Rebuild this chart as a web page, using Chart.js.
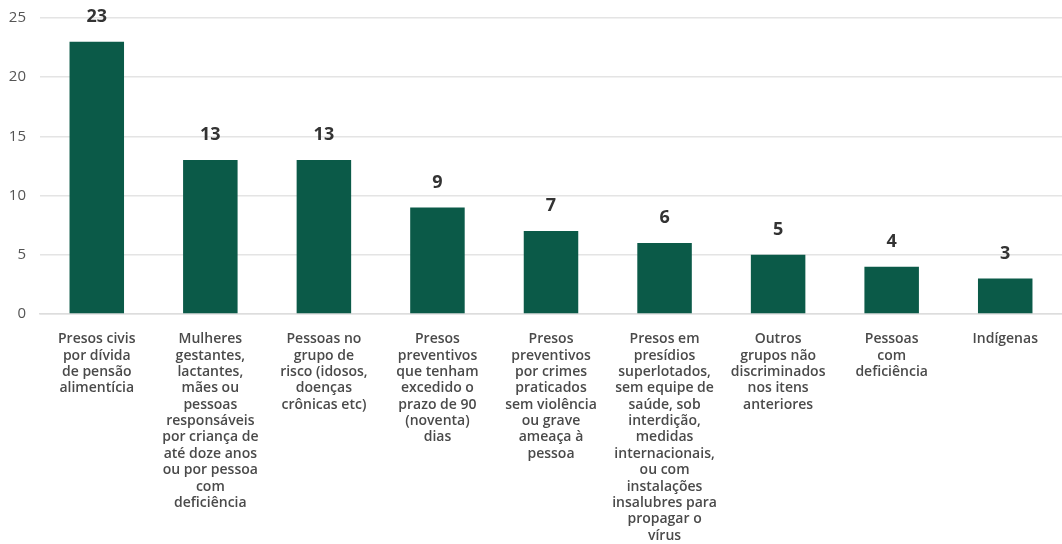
<!DOCTYPE html>
<html>
<head>
<meta charset="utf-8">
<script src="https://cdn.jsdelivr.net/npm/chart.js@4"></script>
<style>
  html, body { margin: 0; padding: 0; background: #fff; }
  #wrap { width: 1062px; height: 544px; position: relative; }
</style>
</head>
<body>
<div id="wrap"><canvas id="grupos"></canvas></div>
<script>
// Category labels, already broken into lines as in the original
const categories = [
    ['Presos civis', 'por dívida', 'de pensão', 'alimentícia'],
    ['Mulheres', 'gestantes,', 'lactantes,', 'mães ou', 'pessoas', 'responsáveis', 'por criança de', 'até doze anos', 'ou por pessoa', 'com', 'deficiência'],
    ['Pessoas no', 'grupo de', 'risco (idosos,', 'doenças', 'crônicas etc)'],
    ['Presos', 'preventivos', 'que tenham', 'excedido o', 'prazo de 90', '(noventa)', 'dias'],
    ['Presos', 'preventivos', 'por crimes', 'praticados', 'sem violência', 'ou grave', 'ameaça à', 'pessoa'],
    ['Presos em', 'presídios', 'superlotados,', 'sem equipe de', 'saúde, sob', 'interdição,', 'medidas', 'internacionais,', 'ou com', 'instalações', 'insalubres para', 'propagar o', 'vírus'],
    ['Outros', 'grupos não', 'discriminados', 'nos itens', 'anteriores'],
    ['Pessoas', 'com', 'deficiência'],
    ['Indígenas']
];
const values = [23, 13, 13, 9, 7, 6, 5, 4, 3];
const yTicks = [0, 5, 10, 15, 20, 25];

const BAR_COLOR = '#0b5a48';

// draws the number above each bar
const valueLabels = {
    id: 'valueLabels',
    afterDatasetsDraw(chart) {
        const ctx = chart.ctx;
        const meta = chart.getDatasetMeta(0);
        ctx.save();
        ctx.font = 'bold 18px "Open Sans", sans-serif';
        ctx.fillStyle = '#333333';
        ctx.textAlign = 'center';
        ctx.textBaseline = 'middle';
        meta.data.forEach((bar, i) => {
            ctx.fillText(String(values[i]), bar.x, bar.y - 25);
        });
        ctx.restore();
    }
};

new Chart(document.getElementById('grupos').getContext('2d'), {
    type: 'bar',
    data: {
        labels: categories,
        datasets: [{
            data: values,
            backgroundColor: BAR_COLOR,
            borderWidth: 0,
            barPercentage: 0.48,
            categoryPercentage: 1
        }]
    },
    options: {
        responsive: true,
        maintainAspectRatio: false,
        animation: false,
        layout: { padding: 0 },
        plugins: {
            legend: { display: false },
            tooltip: { enabled: false }
        },
        scales: {
            x: {
                afterFit(scale) { scale.height = 230; },
                grid: { display: false },
                border: { color: '#dddddd', width: 1.5 },
                ticks: {
                    autoSkip: false,
                    maxRotation: 0,
                    minRotation: 0,
                    padding: 9,
                    color: '#4a4a4a',
                    font: { family: '"Open Sans", sans-serif', size: 14, weight: '600', lineHeight: 1.17 }
                }
            },
            y: {
                min: 0,
                max: 25,
                afterFit(scale) {
                    scale.width = 40;
                    scale.paddingTop = 18;
                },
                afterBuildTicks(scale) { scale.ticks = yTicks.map(v => ({ value: v })); },
                grid: { color: '#e4e4e4', lineWidth: 1.5, drawTicks: false },
                border: { display: false },
                ticks: {
                    padding: 14,
                    color: '#555555',
                    font: { family: '"Open Sans", sans-serif', size: 15 }
                }
            }
        }
    },
    plugins: [valueLabels]
});
</script>
</body>
</html>
